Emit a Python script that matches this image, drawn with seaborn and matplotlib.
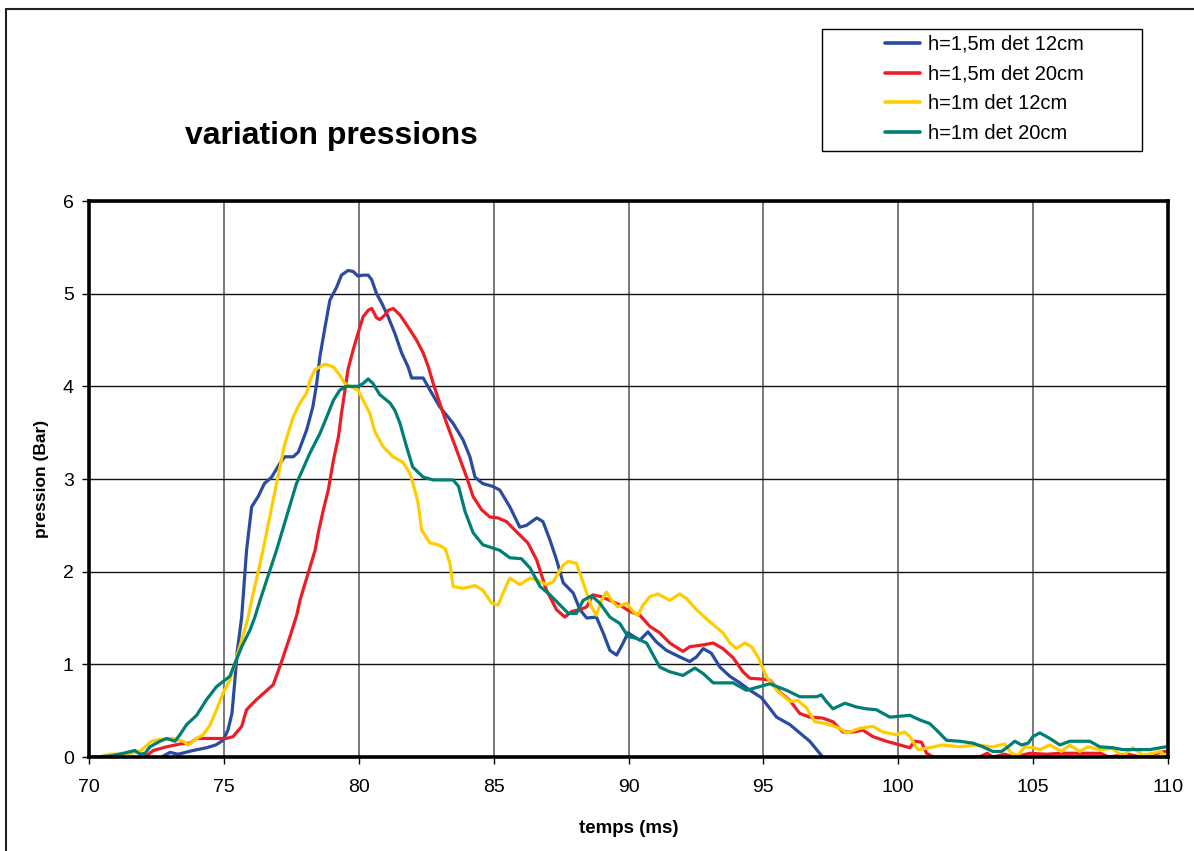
import numpy as np
import pandas as pd
import seaborn as sns
import matplotlib
matplotlib.use("Agg")
import matplotlib.pyplot as plt
from matplotlib.lines import Line2D
from matplotlib.patches import Rectangle

# ---------------- data ----------------
labels = ["h=1,5m det 12cm", "h=1,5m det 20cm", "h=1m det 12cm", "h=1m det 20cm"]
colors = ["#2B4BA2", "#EE1D25", "#FFCC00", "#007F74"]

t_blue = [72.7,73.0,73.3,73.85,74.36,74.7,74.97,75.15,75.3,75.4,75.5,75.66,75.84,76.03,76.27,76.5,76.77,77.08,77.26,77.57,77.76,78.07,78.3,78.44,78.56,78.75,78.93,79.18,79.36,79.6,79.79,79.97,80.16,80.35,80.48,80.66,80.85,81.09,81.34,81.59,81.83,81.96,82.2,82.39,82.64,83.0,83.5,83.87,84.12,84.31,84.6,84.97,85.23,85.6,85.97,86.22,86.6,86.83,87.09,87.33,87.58,87.95,88.2,88.45,88.81,89.06,89.31,89.56,89.8,89.98,90.42,90.72,91.04,91.41,91.9,92.27,92.52,92.77,93.07,93.39,93.76,94.13,94.5,94.93,95.49,95.98,96.35,96.72,97.03,97.2]
p_blue = [0,0.05,0.03,0.07,0.1,0.13,0.18,0.29,0.47,0.8,1.15,1.51,2.23,2.7,2.81,2.95,3.02,3.17,3.24,3.24,3.29,3.53,3.78,4.03,4.32,4.64,4.93,5.07,5.2,5.25,5.24,5.19,5.2,5.2,5.15,5.0,4.9,4.75,4.57,4.36,4.21,4.09,4.09,4.09,3.96,3.78,3.6,3.42,3.24,3.02,2.95,2.92,2.88,2.70,2.48,2.5,2.58,2.54,2.34,2.13,1.88,1.77,1.59,1.50,1.51,1.34,1.15,1.10,1.23,1.34,1.26,1.35,1.24,1.15,1.08,1.03,1.08,1.17,1.12,0.97,0.87,0.80,0.72,0.64,0.43,0.35,0.26,0.17,0.06,0.0]

t_red = [72.08,72.38,72.88,73.37,73.74,73.99,75.1,75.34,75.66,75.84,76.21,76.83,77.14,77.45,77.7,77.82,78.38,78.5,78.69,78.87,79.06,79.25,79.36,79.49,79.6,79.79,79.97,80.16,80.35,80.48,80.66,80.78,80.97,81.09,81.28,81.53,81.83,82.14,82.39,82.58,82.76,83.0,83.26,83.63,84.0,84.24,84.55,84.86,85.16,85.48,85.85,86.27,86.59,86.96,87.33,87.64,87.89,88.2,88.45,88.68,89.0,89.31,89.68,90.05,90.42,90.79,91.16,91.53,92.02,92.27,92.77,93.14,93.5,93.88,94.24,94.5,94.99,95.24,95.61,95.98,96.35,96.72,97.2,97.58,97.95,98.32,98.69,99.06,99.56,100.06,100.43,100.61,100.86,101.05,101.3,103.0,103.3,103.5,103.95,104.3,104.88,105.5,106.0,107.5,107.8,108.5,109.0,109.9]
p_red = [0,0.07,0.11,0.14,0.15,0.2,0.2,0.22,0.33,0.51,0.62,0.78,1.03,1.30,1.53,1.69,2.23,2.42,2.67,2.88,3.2,3.46,3.71,3.96,4.18,4.39,4.57,4.75,4.82,4.84,4.74,4.72,4.77,4.82,4.84,4.77,4.64,4.5,4.36,4.21,4.03,3.82,3.6,3.31,3.02,2.81,2.67,2.59,2.58,2.54,2.43,2.31,2.13,1.8,1.59,1.51,1.57,1.59,1.62,1.75,1.73,1.69,1.64,1.57,1.53,1.41,1.34,1.23,1.14,1.19,1.21,1.23,1.17,1.07,0.92,0.85,0.84,0.83,0.70,0.61,0.47,0.43,0.42,0.38,0.27,0.27,0.29,0.22,0.17,0.13,0.1,0.17,0.16,0.04,0.0,0.0,0.04,0.0,0.03,0.0,0.04,0.03,0.04,0.04,0.0,0.03,0.0,0.06]

t_yellow = [70.4,70.78,71.4,71.89,72.08,72.32,72.63,73.12,73.49,73.68,73.99,74.23,74.48,74.73,74.97,75.22,75.41,75.66,75.9,76.03,76.45,76.7,76.95,77.26,77.57,77.82,78.07,78.2,78.38,78.75,79.06,79.3,79.49,79.67,79.97,80.16,80.41,80.6,80.9,81.27,81.64,81.9,82.08,82.2,82.33,82.64,82.94,83.2,83.38,83.5,83.87,84.31,84.6,84.93,85.17,85.35,85.6,85.97,86.35,86.6,86.96,87.2,87.58,87.77,88.07,88.26,88.45,88.63,88.81,89.0,89.18,89.37,89.6,89.93,90.17,90.35,90.54,90.79,91.09,91.53,91.9,92.15,92.52,93.01,93.5,93.76,94.0,94.31,94.56,94.8,95.11,95.49,95.98,96.28,96.6,96.91,97.33,97.83,98.08,98.58,99.06,99.43,99.93,100.24,100.43,100.73,101.17,101.65,102.28,102.87,103.5,103.95,104.19,104.44,104.69,104.99,105.25,105.62,106.05,106.36,106.73,107.03,107.47,107.95,108.32,108.7,109.07,109.44,109.7,109.93]
p_yellow = [0.0,0.03,0.03,0.06,0.11,0.17,0.19,0.2,0.17,0.13,0.2,0.24,0.34,0.51,0.69,0.83,1.01,1.26,1.51,1.69,2.23,2.59,2.95,3.38,3.67,3.82,3.93,4.07,4.18,4.24,4.21,4.12,4.03,4.0,3.96,3.85,3.71,3.51,3.35,3.24,3.18,3.06,2.88,2.74,2.45,2.31,2.29,2.25,2.09,1.84,1.82,1.85,1.8,1.66,1.64,1.77,1.93,1.86,1.93,1.91,1.86,1.89,2.07,2.11,2.09,1.93,1.77,1.62,1.53,1.69,1.78,1.69,1.62,1.66,1.57,1.53,1.64,1.73,1.76,1.69,1.76,1.71,1.59,1.46,1.34,1.23,1.17,1.23,1.19,1.08,0.87,0.72,0.60,0.61,0.53,0.38,0.36,0.31,0.26,0.31,0.33,0.27,0.24,0.27,0.22,0.08,0.1,0.13,0.11,0.13,0.11,0.14,0.04,0.02,0.11,0.1,0.08,0.13,0.06,0.13,0.06,0.11,0.08,0.09,0.01,0.1,0.02,0.04,0.06,0.01]

t_teal = [70.15,70.78,71.27,71.7,71.89,72.08,72.26,72.63,72.88,73.19,73.37,73.62,73.99,74.36,74.73,75.04,75.22,75.41,75.66,75.97,76.15,76.34,76.95,77.32,77.69,78.19,78.56,78.87,79.06,79.3,79.55,79.97,80.16,80.35,80.53,80.78,81.16,81.34,81.53,81.77,82.0,82.39,82.76,83.5,83.7,83.94,84.24,84.6,85.23,85.6,86.03,86.35,86.72,87.09,87.46,87.77,88.07,88.32,88.63,88.94,89.31,89.68,89.98,90.3,90.67,91.16,91.53,92.02,92.46,92.77,93.14,93.88,94.37,94.87,95.24,95.86,96.35,96.97,97.15,97.33,97.58,98.02,98.45,98.82,99.19,99.69,100.06,100.43,100.8,101.17,101.42,101.79,102.28,102.76,103.14,103.5,103.83,104.07,104.32,104.57,104.82,104.99,105.25,105.62,105.99,106.36,107.1,107.47,107.95,108.32,109.32,109.93]
p_teal = [0.0,0.01,0.04,0.07,0.03,0.04,0.11,0.17,0.2,0.17,0.24,0.35,0.45,0.62,0.76,0.83,0.87,1.01,1.19,1.37,1.51,1.69,2.23,2.59,2.95,3.28,3.49,3.71,3.85,3.96,4.0,4.0,4.03,4.08,4.03,3.91,3.82,3.74,3.6,3.35,3.13,3.02,2.99,2.99,2.92,2.65,2.42,2.29,2.23,2.15,2.14,2.04,1.84,1.75,1.64,1.55,1.55,1.69,1.74,1.66,1.51,1.44,1.30,1.28,1.23,0.97,0.92,0.88,0.96,0.90,0.80,0.80,0.72,0.76,0.79,0.72,0.65,0.65,0.67,0.6,0.52,0.58,0.54,0.52,0.51,0.43,0.44,0.45,0.40,0.36,0.29,0.18,0.17,0.15,0.11,0.06,0.06,0.11,0.17,0.13,0.15,0.22,0.26,0.2,0.13,0.17,0.17,0.11,0.1,0.08,0.08,0.11]

x_ticks = [70, 75, 80, 85, 90, 95, 100, 105, 110]
y_ticks = [0, 1, 2, 3, 4, 5, 6]

series_t = [t_blue, t_red, t_yellow, t_teal]
series_p = [p_blue, p_red, p_yellow, p_teal]
frames = []
for lab, tt, pp in zip(labels, series_t, series_p):
    assert len(tt) == len(pp), (lab, len(tt), len(pp))
    frames.append(pd.DataFrame({"temps": tt, "pression": pp, "serie": lab}))
df = pd.concat(frames, ignore_index=True)

# ---------------- style ----------------
sns.set_theme(style="white")
plt.rcParams["font.family"] = ["Liberation Sans", "DejaVu Sans"]
plt.rcParams["text.color"] = "black"
plt.rcParams["axes.labelcolor"] = "black"

W, H = 1194, 851
fig = plt.figure(figsize=(W / 100, H / 100), dpi=100)
ax = fig.add_axes([89 / W, 1 - 757 / H, (1168 - 89) / W, (757 - 201) / H])

sns.lineplot(data=df, x="temps", y="pression", hue="serie", hue_order=labels,
             palette=colors, sort=False, estimator=None, linewidth=2.3,
             legend=False, ax=ax)

ax.set_xlim(70, 110)
ax.set_ylim(0, 6)
ax.set_xticks(x_ticks)
ax.set_yticks(y_ticks)
ax.xaxis.grid(True, color="#555555", linewidth=1.1)
ax.yaxis.grid(True, color="#111111", linewidth=1.0)
ax.set_axisbelow(True)
for s in ax.spines.values():
    s.set_color("black")
    s.set_linewidth(2.6)
    s.set_zorder(5)
ax.tick_params(axis="both", which="major", direction="out", length=5, width=1,
               color="black", labelsize=14, labelcolor="black",
               left=True, bottom=True)
ax.tick_params(axis="x", pad=11)
ax.tick_params(axis="y", pad=6)
ax.set_xlabel("temps (ms)", fontsize=13.5, fontweight="bold", labelpad=17,
              color="black")
ax.set_ylabel("pression (Bar)", fontsize=12.5, fontweight="bold", labelpad=10,
              color="black")

# title
fig.text(331 / W, 1 - 136 / H, "variation pressions", fontsize=23,
         fontweight="bold", ha="center", va="center", color="black")

# legend (Excel-like box with wide padding)
fig.add_artist(Rectangle((822 / W, 1 - 151 / H), (1142 - 822) / W, (151 - 29) / H,
                         transform=fig.transFigure, facecolor="white",
                         edgecolor="black", linewidth=1.0, zorder=3))
handles = [Line2D([0], [0], color=c, lw=2.6) for c in colors]
leg = fig.legend(handles, labels, loc="upper left",
                 bbox_to_anchor=(885 / W, 1 - 35 / H), fontsize=14.5,
                 frameon=False, borderpad=0, borderaxespad=0,
                 handlelength=1.75, handletextpad=0.4, labelspacing=0.53)
leg.set_zorder(4)
for txt in leg.get_texts():
    txt.set_color("black")

# outer frame of the chart area (partially cropped)
fig.add_artist(Line2D([6 / W, 6 / W], [0, 1 - 9 / H], color="#222222", lw=1.5,
                      transform=fig.transFigure))
fig.add_artist(Line2D([6 / W, 1], [1 - 9 / H, 1 - 9 / H], color="#222222", lw=1.5,
                      transform=fig.transFigure))

fig.savefig("out.png", dpi=100)
